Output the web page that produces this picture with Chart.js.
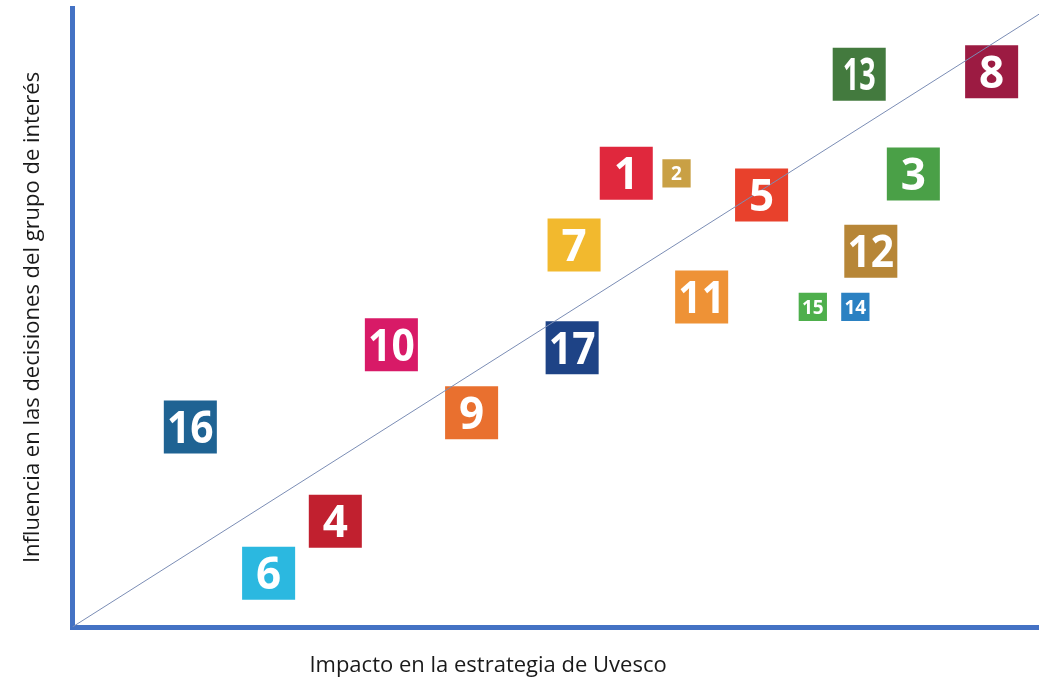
<!DOCTYPE html>
<html>
<head>
<meta charset="utf-8">
<script src="https://cdn.jsdelivr.net/npm/chart.js@4.4.1/dist/chart.umd.min.js"></script>
<style>
  html, body { margin: 0; padding: 0; background: #fff; }
  #wrap { width: 1039px; height: 681px; }
</style>
</head>
<body>
<div id="wrap"><canvas id="chartODS"></canvas></div>
<script>
// Datos: ODS, impacto (eje x) e influencia (eje y)
const ods = ['1', '2', '3', '4', '5', '6', '7', '8', '9', '10', '11', '12', '13', '14', '15', '16', '17'];
const impacto = [57.3, 62.5, 87.0, 27.2, 71.3, 20.3, 51.9, 95.1, 41.3, 33.0, 65.1, 82.6, 81.4, 81.0, 76.6, 12.2, 51.7];
const influencia = [73.3, 73.3, 73.2, 17.1, 69.8, 8.7, 61.7, 89.7, 34.6, 45.6, 53.3, 60.7, 89.3, 51.7, 51.7, 32.3, 45.1];
const diagonalX = [0, 100];
const diagonalY = [0, 99];
const tituloX = 'Impacto en la estrategia de Uvesco';
const tituloY = 'Influencia en las decisiones del grupo de interés';

// Estilos
const colores = ['#E0283D', '#C9A045', '#4AA047', '#C1202F', '#E8412C', '#2BB8E0', '#F2B92E', '#9C1B42',
  '#E9702F', '#D81A67', '#EE9236', '#B78637', '#437A3E', '#2B81C2', '#4EAF4C', '#1F6393', '#1E4386'];
const pequenos = ['2', '14', '15'];
const azulEje = '#4472C4';

const canvas = document.getElementById('chartODS');
const ctx = canvas.getContext('2d');

// Plugin para escribir el número de cada ODS dentro de su cuadrado
const etiquetasODS = {
  id: 'etiquetasODS',
  afterDatasetsDraw(chart) {
    const meta = chart.getDatasetMeta(1);
    const c = chart.ctx;
    c.save();
    c.fillStyle = '#ffffff';
    c.textAlign = 'center';
    c.textBaseline = 'alphabetic';
    meta.data.forEach((p, i) => {
      const txt = ods[i];
      const small = pequenos.includes(txt);
      const size = small ? 19 : 44;
      const lado = small ? 28 : 53;
      c.font = 'bold ' + size + 'px "Open Sans"';
      // el 13 va más estrecho, como en el icono original
      const ancho = txt === '13' ? lado * 0.62 : lado * 0.88;
      c.fillText(txt, p.x, p.y + size * 0.36, ancho);
    });
    c.restore();
  }
};

// Título del eje x, algo desplazado a la izquierda como en el original
const tituloEjeX = {
  id: 'tituloEjeX',
  afterDraw(chart) {
    const a = chart.chartArea;
    const c = chart.ctx;
    c.save();
    c.fillStyle = '#1a1a1a';
    c.font = '22px "Open Sans"';
    c.textAlign = 'center';
    c.textBaseline = 'middle';
    c.fillText(tituloX, a.left + (a.right - a.left) * 0.43, a.bottom + 39);
    c.restore();
  }
};

const chartODS = new Chart(ctx, {
  type: 'scatter',
  data: {
    datasets: [
      {
        type: 'line',
        data: diagonalX.map((x, i) => ({ x: x, y: diagonalY[i] })),
        borderColor: '#7B8DB5',
        borderWidth: 1,
        pointRadius: 0,
        fill: false
      },
      {
        data: ods.map((o, i) => ({ x: impacto[i], y: influencia[i] })),
        pointStyle: 'rect',
        pointRadius: ods.map(o => pequenos.includes(o) ? 20 : 37.5),
        pointHoverRadius: ods.map(o => pequenos.includes(o) ? 20 : 37.5),
        backgroundColor: colores,
        borderColor: colores,
        borderWidth: 0
      }
    ]
  },
  plugins: [etiquetasODS, tituloEjeX],
  options: {
    responsive: true,
    maintainAspectRatio: false,
    animation: false,
    events: [],
    layout: { autoPadding: false, padding: { left: 20, top: 8, right: 0, bottom: 46 } },
    plugins: {
      legend: { display: false },
      tooltip: { enabled: false }
    },
    scales: {
      x: {
        type: 'linear',
        min: 0,
        max: 100,
        grid: { display: false },
        ticks: { display: false },
        border: { display: true, color: azulEje, width: 5 }
      },
      y: {
        type: 'linear',
        min: 0,
        max: 100,
        grid: { display: false },
        ticks: { display: false },
        border: { display: true, color: azulEje, width: 5 },
        title: {
          display: true,
          text: tituloY,
          color: '#1a1a1a',
          font: { family: 'Open Sans', size: 22 },
          padding: { top: 0, bottom: 18 }
        }
      }
    }
  }
});
</script>
</body>
</html>
